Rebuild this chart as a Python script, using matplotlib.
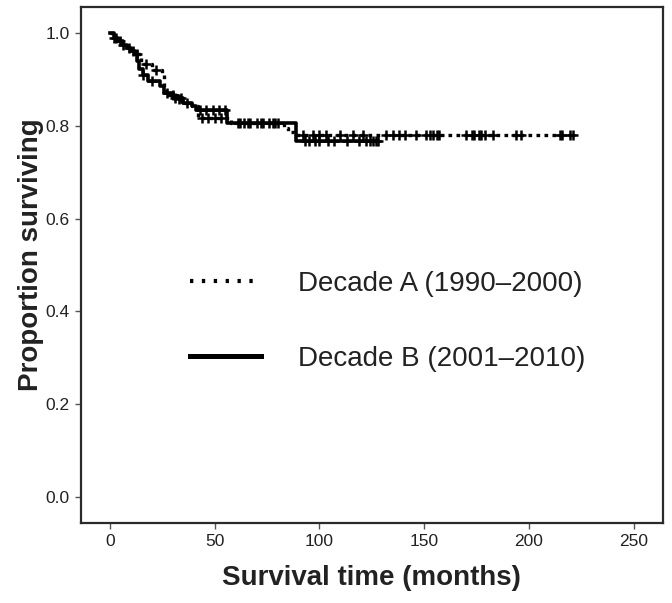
import numpy as np
import matplotlib
matplotlib.use("Agg")
import matplotlib.pyplot as plt
from matplotlib.lines import Line2D

plt.rcParams['font.family'] = ['Liberation Sans', 'DejaVu Sans']

# ---- data ----
a_label = "Decade A (1990\u20132000)"
b_label = "Decade B (2001\u20132010)"

a_times = [0, 2, 4, 6, 8, 10, 12, 15, 20, 25, 26, 28, 32, 36, 39, 42, 58, 83, 85, 88]
a_surv = [1.0, 0.99, 0.982, 0.975, 0.968, 0.962, 0.955, 0.933, 0.921, 0.912,
          0.875, 0.867, 0.858, 0.85, 0.842, 0.816, 0.805, 0.795, 0.787, 0.780]
a_end = 221
a_censor = [3, 5, 9, 13, 17, 22, 30, 33, 37, 44, 47, 50, 53, 61, 64, 67, 70, 73,
            76, 79, 92, 97, 100, 103, 110, 116, 121, 132, 135, 138, 141, 146,
            151, 153, 154, 156, 157, 170, 173, 174, 176, 177, 179, 183, 194,
            196, 215, 216, 219.5, 221]

b_times = [0, 2, 4, 6, 8, 10, 12, 13, 14, 16, 18, 24, 26, 30, 35, 39, 41, 56, 89]
b_surv = [1.0, 0.99, 0.982, 0.975, 0.968, 0.962, 0.955, 0.94, 0.922, 0.91,
          0.896, 0.885, 0.871, 0.86, 0.85, 0.842, 0.834, 0.805, 0.768]
b_end = 128
b_censor = [2, 6, 11, 16, 20, 27, 31, 34, 43, 46, 49, 52, 55, 62, 66, 72, 78, 80,
            93, 95, 98, 100, 104, 107, 113, 119, 122, 124, 125.6, 127, 128]

x_ticks = [0, 50, 100, 150, 200, 250]
y_ticks = [0.0, 0.2, 0.4, 0.6, 0.8, 1.0]


def surv_at(times, surv, t):
    idx = np.searchsorted(np.asarray(times), np.asarray(t), side='right') - 1
    return np.asarray(surv)[idx]


fig = plt.figure(figsize=(6.72, 6.03), dpi=100)
ax = fig.add_axes([0.120, 0.1327, 0.8666, 0.8557])

spine_col = '#2a2a2a'

# Decade A: dotted
ax.step(a_times + [a_end], a_surv + [a_surv[-1]], where='post', color='black',
        lw=2.4, linestyle=(0, (1.1, 1.3)))
ax.plot(a_censor, surv_at(a_times, a_surv, a_censor), linestyle='none',
        marker='+', ms=7, mew=1.8, color='black')

# Decade B: solid
ax.step(b_times + [b_end], b_surv + [b_surv[-1]], where='post', color='black',
        lw=2.6, linestyle='-')
ax.plot(b_censor, surv_at(b_times, b_surv, b_censor), linestyle='none',
        marker='+', ms=7, mew=1.8, color='black')

ax.set_xlim(-14, 264)
ax.set_ylim(-0.056, 1.056)
ax.set_xticks(x_ticks)
ax.set_xticklabels([str(v) for v in x_ticks])
ax.set_yticks(y_ticks)
ax.set_yticklabels([f"{v:.1f}" for v in y_ticks])

for s in ax.spines.values():
    s.set_color(spine_col)
    s.set_linewidth(1.6)

ax.tick_params(axis='both', direction='out', length=4, width=1.0,
               color='#555555', labelsize=12.5, labelcolor='#222222', pad=4)

ax.set_xlabel("Survival time (months)", fontsize=20, fontweight='bold',
              color='#222222')
ax.set_ylabel("Proportion surviving", fontsize=20, fontweight='bold',
              color='#222222')
ax.xaxis.set_label_coords(0.5, -0.082)
ax.yaxis.set_label_coords(-0.063, 0.52)

handles = [
    Line2D([], [], color='black', lw=3.0, linestyle=(0, (0.8, 2.05))),
    Line2D([], [], color='black', lw=3.6, linestyle='-'),
]
ax.legend(handles, [a_label, b_label], loc='upper left',
          bbox_to_anchor=(0.188, 0.488), frameon=False, fontsize=20,
          handlelength=2.55, handletextpad=1.35, labelspacing=1.75,
          borderpad=0, borderaxespad=0, labelcolor='#222222')

fig.savefig("out.png", dpi=100)
